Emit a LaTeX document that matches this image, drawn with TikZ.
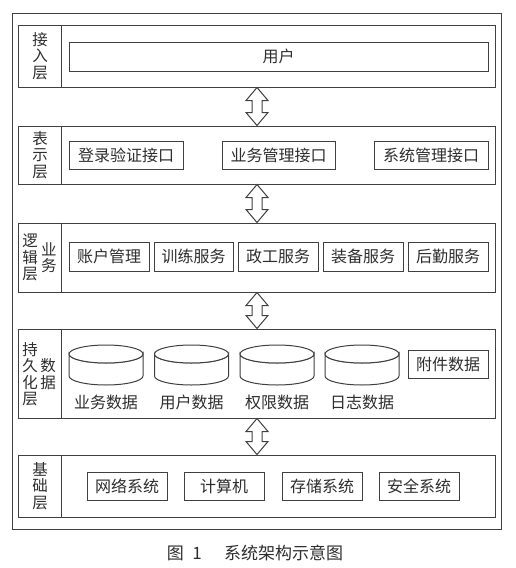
\documentclass[tikz,border=0pt]{standalone}
\usepackage{fontspec}
\newfontfamily\cjk{Noto Sans CJK SC}
\usetikzlibrary{calc}
\definecolor{ln}{HTML}{404040}
\definecolor{tx}{HTML}{2E2E2E}
\tikzset{
  every node/.style={font=\cjk\fontsize{16}{16.5}\selectfont, text=tx, inner sep=0pt},
  box/.style={draw=ln, line width=1pt, rectangle},
  layer/.style={draw=ln, line width=1pt, rectangle},
  lab/.style={align=center, font=\cjk\fontsize{15.5}{16.5}\selectfont},
  arr/.style={draw=ln, line width=1pt, fill=white, line join=miter},
  cyl/.style={draw=ln, line width=1pt, fill=white},
}
\newcommand\darrow[2]{%
  \path[arr] let \p1=(#1), \p2=(#2) in
   (\x1,\y1) -- (\x1+11pt,\y1-13pt) -- (\x1+5pt,\y1-13pt) -- (\x1+5pt,\y2+13pt)
   -- (\x1+11pt,\y2+13pt) -- (\x1,\y2) -- (\x1-11pt,\y2+13pt) -- (\x1-5pt,\y2+13pt)
   -- (\x1-5pt,\y1-13pt) -- (\x1-11pt,\y1-13pt) -- cycle;}
% name, cx, topy  (rx=37, ry=9, body 22)
\newcommand\cylinder[3]{%
  \coordinate (#1) at (#2,#3);
  \path[cyl] ($(#1)+(-37,9)$) -- ($(#1)+(-37,31)$) arc[start angle=180,end angle=360,x radius=37pt,y radius=9pt]
    -- ($(#1)+(37,9)$) arc[start angle=0,end angle=-180,x radius=37pt,y radius=9pt] -- cycle;
  \draw[cyl] ($(#1)+(0,9)$) ellipse[x radius=37pt,y radius=9pt];}
\begin{document}
\begin{tikzpicture}[x=1pt,y=-1pt]
\useasboundingbox (0,0) rectangle (516,568);
\fill[white] (0,0) rectangle (516,568);
\node[draw=ln, line width=1pt, minimum width=488.5pt, minimum height=516pt] (outer) at (256.75,271) {};
\coordinate (ax) at (257,0);
\coordinate (dv) at (61,0);
% layers
\node[layer, minimum width=476.5pt, minimum height=62pt] (L1) at (256.75,56) {};
\node[layer, minimum width=476.5pt, minimum height=58pt] (L2) at (256.75,155) {};
\node[layer, minimum width=476.5pt, minimum height=69pt] (L3) at (256.75,257.5) {};
\node[layer, minimum width=476.5pt, minimum height=89pt] (L4) at (256.75,373.5) {};
\node[layer, minimum width=476.5pt, minimum height=62pt] (L5) at (256.75,486) {};
\foreach \L in {L1,L2,L3,L4,L5} \draw[draw=ln, line width=1pt] (\L.north -| dv) -- (\L.south -| dv);
% labels
\node[lab] (t1) at (40,56) {接\\入\\层};
\node[lab] (t2) at (40,155) {表\\示\\层};
\node[lab] (t3a) at (30,257.5) {逻\\辑\\层};
\node[lab] (t3b) at (49,257.5) {业\\务};
\node[lab] (t4a) at (30,374) {持\\久\\化\\层};
\node[lab] (t4b) at (48,374) {数\\据};
\node[lab] (t5) at (40,486) {基\\础\\层};
% layer 1
\node[box, minimum width=419pt, minimum height=29pt] (user) at (278.5,56.5) {用户};
% layer 2
\node[box, minimum width=114pt, minimum height=28pt] (b21) at (126,155) {登录验证接口};
\node[box, minimum width=113pt, minimum height=28pt] (b22) at (278.5,155) {业务管理接口};
\node[box, minimum width=114pt, minimum height=28pt] (b23) at (431,155) {系统管理接口};
% layer 3
\node[box, minimum width=80pt, minimum height=29pt] (b31) at (109,256.5) {账户管理};
\node[box, minimum width=79pt, minimum height=29pt] (b32) at (193.5,256.5) {训练服务};
\node[box, minimum width=80pt, minimum height=29pt] (b33) at (278,256.5) {政工服务};
\node[box, minimum width=80pt, minimum height=29pt] (b34) at (363,256.5) {装备服务};
\node[box, minimum width=80pt, minimum height=29pt] (b35) at (448,256.5) {后勤服务};
% layer 4
\cylinder{c1}{106}{345}
\cylinder{c2}{191.5}{345}
\cylinder{c3}{277}{345}
\cylinder{c4}{362}{345}
\node (c1t) at (106,402) {业务数据};
\node (c2t) at (191.5,402) {用户数据};
\node (c3t) at (277,402) {权限数据};
\node (c4t) at (362,402) {日志数据};
\node[box, minimum width=80pt, minimum height=28pt] (b45) at (448,364) {附件数据};
% layer 5
\node[box, minimum width=80pt, minimum height=28pt] (b51) at (127,486) {网络系统};
\node[box, minimum width=80pt, minimum height=28pt] (b52) at (224,486) {计算机};
\node[box, minimum width=80pt, minimum height=28pt] (b53) at (322,486) {存储系统};
\node[box, minimum width=80pt, minimum height=28pt] (b54) at (419,486) {安全系统};
% arrows
\darrow{L1.south -| ax}{L2.north -| ax}
\darrow{L2.south -| ax}{L3.north -| ax}
\darrow{L3.south -| ax}{L4.north -| ax}
\darrow{L4.south -| ax}{L5.north -| ax}
% caption
\node[font=\cjk\fontsize{17}{18}\selectfont] (cap) at (255,553) {图\hspace{0.5em}1\hspace{1.3em}系统架构示意图};
\end{tikzpicture}
\end{document}
